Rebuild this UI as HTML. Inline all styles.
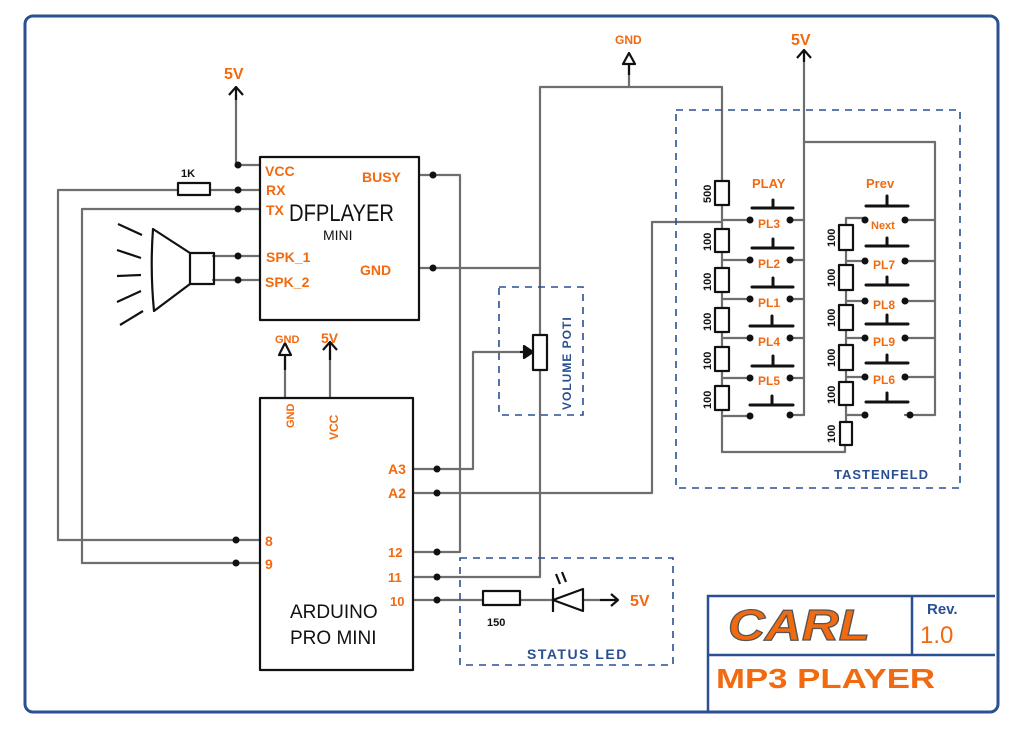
<!DOCTYPE html>
<html><head><meta charset="utf-8"><style>
html,body{margin:0;padding:0;background:#fff;}
svg{display:block;}
.w{stroke:#6e6e6e;stroke-width:2.2;fill:none;stroke-linecap:round;stroke-linejoin:round}
.b{stroke:#111;stroke-width:2.2;fill:none;stroke-linejoin:round}
.bt{stroke:#111;stroke-width:3;fill:none;stroke-linecap:round}
.d{stroke:#2a4f93;stroke-width:1.6;fill:none;stroke-dasharray:7 6}
.o{fill:#f26a10;font-family:"Liberation Sans",sans-serif;font-weight:bold}
.k{fill:#111;font-family:"Liberation Sans",sans-serif}
.bl{fill:#2a4f93;font-family:"Liberation Sans",sans-serif;font-weight:bold}
</style></head><body>
<svg width="1024" height="739" viewBox="0 0 1024 739" xmlns="http://www.w3.org/2000/svg">
<rect x="25" y="16" width="973" height="696" rx="8" fill="none" stroke="#2a4f93" stroke-width="3"/>

<g class="w">
<polyline points="236,95 236,165 260,165"/>
<polyline points="58,540 58,190 178,190"/><line x1="210" y1="190" x2="260" y2="190"/>
<polyline points="82,563 82,209 260,209"/>
<line x1="213" y1="256" x2="260" y2="256"/><line x1="213" y1="280" x2="260" y2="280"/>
<polyline points="419,175 460,175 460,552 413,552"/>
<line x1="419" y1="268" x2="540" y2="268"/>
<polyline points="540,335 540,87 722,87 722,181"/>
<line x1="629" y1="66" x2="629" y2="87"/>
<polyline points="540,370 540,577 413,577"/>
<polyline points="413,469 473,469 473,352 520,352"/>
<polyline points="413,493 652,493 652,222 722,222"/>
<line x1="58" y1="540" x2="260" y2="540"/>
<line x1="82" y1="563" x2="260" y2="563"/>
<line x1="413" y1="600" x2="483" y2="600"/><line x1="520" y1="600" x2="553" y2="600"/><line x1="583" y1="600" x2="600" y2="600"/>
<line x1="285" y1="358" x2="285" y2="398"/><line x1="330" y1="350" x2="330" y2="398"/>
<line x1="804" y1="55" x2="804" y2="415"/>
<polyline points="804,142 935,142 935,415 905,415"/>
<line x1="722" y1="205" x2="722" y2="229"/>
<polyline points="722,410 722,452 845,452 845,445"/>
<line x1="722" y1="252" x2="722" y2="268"/><line x1="722" y1="292" x2="722" y2="308"/><line x1="722" y1="332" x2="722" y2="347"/><line x1="722" y1="371" x2="722" y2="386"/>
<line x1="722" y1="220" x2="750" y2="220"/><line x1="722" y1="260" x2="750" y2="260"/><line x1="722" y1="299" x2="750" y2="299"/><line x1="722" y1="338" x2="750" y2="338"/><line x1="722" y1="378" x2="750" y2="378"/><line x1="722" y1="416" x2="750" y2="416"/>
<line x1="790" y1="220" x2="804" y2="220"/><line x1="790" y1="260" x2="804" y2="260"/><line x1="790" y1="299" x2="804" y2="299"/><line x1="790" y1="338" x2="804" y2="338"/><line x1="790" y1="378" x2="804" y2="378"/><line x1="790" y1="415" x2="804" y2="415"/>
<polyline points="846,225 846,218 865,218"/>
<line x1="846" y1="250" x2="846" y2="265"/><line x1="846" y1="290" x2="846" y2="305"/><line x1="846" y1="330" x2="846" y2="345"/><line x1="846" y1="370" x2="846" y2="382"/><line x1="846" y1="405" x2="846" y2="422"/>
<line x1="846" y1="261" x2="865" y2="261"/><line x1="846" y1="301" x2="865" y2="301"/><line x1="846" y1="338" x2="865" y2="338"/><line x1="846" y1="377" x2="865" y2="377"/><line x1="846" y1="415" x2="865" y2="415"/>
<line x1="905" y1="220" x2="935" y2="220"/><line x1="905" y1="261" x2="935" y2="261"/><line x1="905" y1="301" x2="935" y2="301"/><line x1="905" y1="338" x2="935" y2="338"/><line x1="905" y1="377" x2="935" y2="377"/>
</g>

<rect class="d" x="676" y="110" width="284" height="378"/>
<rect class="d" x="499" y="287" width="84" height="128"/>
<rect class="d" x="460" y="558" width="213" height="107"/>

<rect class="b" x="260" y="157" width="159" height="163"/>
<rect class="b" x="260" y="398" width="153" height="272"/>
<g class="b">
<rect x="178" y="183" width="32" height="12"/>
<rect x="190" y="253" width="24" height="31"/>
<path d="M190,253 L153,229 Q150,270 154,311 L190,284"/>
<line x1="118" y1="224" x2="142" y2="235"/><line x1="117" y1="250" x2="141" y2="258"/><line x1="117" y1="276" x2="141" y2="275"/><line x1="117" y1="302" x2="141" y2="291"/><line x1="120" y1="325" x2="143" y2="311"/>
<rect x="533" y="335" width="14" height="35"/>
<path d="M520,352 L532,352"/><path d="M524,346 L533,352 L524,358 Z" fill="#111"/>
<rect x="483" y="591" width="37" height="14"/>
<path d="M553,600 L583,589 L583,611 Z"/><line x1="553" y1="588" x2="553" y2="612"/>
<line x1="560" y1="584" x2="556" y2="574"/><line x1="566" y1="582" x2="562" y2="572"/>
<line x1="600" y1="600" x2="618" y2="600"/><polyline points="611,594 618,600 611,606"/>
<polyline points="229,95 236,87 243,95"/><line x1="236" y1="87" x2="236" y2="100"/>
<polyline points="323,350 330,342 337,350"/><line x1="330" y1="342" x2="330" y2="360"/>
<path d="M285,343 L279,355 L291,355 Z"/><line x1="285" y1="355" x2="285" y2="370"/>
<path d="M629,53 L623,64 L635,64 Z"/><line x1="629" y1="64" x2="629" y2="75"/>
<polyline points="797,58 804,50 811,58"/><line x1="804" y1="50" x2="804" y2="62"/>
<rect x="715" y="181" width="14" height="24"/>
<rect x="715" y="229" width="14" height="23"/><rect x="715" y="268" width="14" height="24"/><rect x="715" y="308" width="14" height="24"/><rect x="715" y="347" width="14" height="24"/><rect x="715" y="386" width="14" height="24"/>
<rect x="839" y="225" width="14" height="25"/><rect x="839" y="265" width="14" height="25"/><rect x="839" y="305" width="14" height="25"/><rect x="839" y="345" width="14" height="25"/><rect x="839" y="382" width="14" height="23"/><rect x="840" y="422" width="12" height="23"/>
</g>
<g class="bt">
<line x1="752" y1="208" x2="793" y2="208"/><line x1="773" y1="200" x2="773" y2="208"/>
<line x1="752" y1="248" x2="793" y2="248"/><line x1="773" y1="239" x2="773" y2="248"/>
<line x1="752" y1="287" x2="793" y2="287"/><line x1="773" y1="278" x2="773" y2="287"/>
<line x1="750" y1="326" x2="793" y2="326"/><line x1="772" y1="316" x2="772" y2="326"/>
<line x1="752" y1="366" x2="793" y2="366"/><line x1="773" y1="356" x2="773" y2="366"/>
<line x1="750" y1="405" x2="793" y2="405"/><line x1="772" y1="396" x2="772" y2="405"/>
<line x1="866" y1="206" x2="908" y2="206"/><line x1="887" y1="196" x2="887" y2="206"/>
<line x1="866" y1="246" x2="908" y2="246"/><line x1="887" y1="238" x2="887" y2="246"/>
<line x1="866" y1="285" x2="908" y2="285"/><line x1="887" y1="277" x2="887" y2="285"/>
<line x1="866" y1="324" x2="908" y2="324"/><line x1="887" y1="315" x2="887" y2="324"/>
<line x1="866" y1="363" x2="908" y2="363"/><line x1="887" y1="355" x2="887" y2="363"/>
<line x1="866" y1="402" x2="908" y2="402"/><line x1="887" y1="393" x2="887" y2="402"/>
</g>
<g fill="#111">
<circle cx="238" cy="165" r="3.5"/><circle cx="238" cy="190" r="3.5"/><circle cx="238" cy="209" r="3.5"/><circle cx="238" cy="256" r="3.5"/><circle cx="238" cy="280" r="3.5"/>
<circle cx="433" cy="175" r="3.5"/><circle cx="433" cy="268" r="3.5"/>
<circle cx="236" cy="540" r="3.5"/><circle cx="236" cy="563" r="3.5"/>
<circle cx="437" cy="469" r="3.5"/><circle cx="437" cy="493" r="3.5"/><circle cx="437" cy="552" r="3.5"/><circle cx="437" cy="577" r="3.5"/><circle cx="437" cy="600" r="3.5"/>
<circle cx="750" cy="220" r="3.5"/><circle cx="750" cy="260" r="3.5"/><circle cx="750" cy="299" r="3.5"/><circle cx="750" cy="338" r="3.5"/><circle cx="750" cy="378" r="3.5"/><circle cx="750" cy="416" r="3.5"/>
<circle cx="790" cy="220" r="3.5"/><circle cx="790" cy="260" r="3.5"/><circle cx="790" cy="299" r="3.5"/><circle cx="790" cy="338" r="3.5"/><circle cx="790" cy="378" r="3.5"/><circle cx="790" cy="415" r="3.5"/>
<circle cx="865" cy="220" r="3.5"/><circle cx="865" cy="261" r="3.5"/><circle cx="865" cy="301" r="3.5"/><circle cx="865" cy="338" r="3.5"/><circle cx="865" cy="377" r="3.5"/><circle cx="865" cy="415" r="3.5"/>
<circle cx="905" cy="220" r="3.5"/><circle cx="905" cy="261" r="3.5"/><circle cx="905" cy="301" r="3.5"/><circle cx="905" cy="338" r="3.5"/><circle cx="905" cy="377" r="3.5"/><circle cx="910" cy="415" r="3.5"/>
</g>

<g class="o">
<text x="224" y="79" font-size="16">5V</text>
<text x="321" y="343" font-size="14">5V</text>
<text x="275" y="343" font-size="11">GND</text>
<text x="615" y="44" font-size="12">GND</text>
<text x="791" y="45" font-size="16">5V</text>
<text x="265" y="176" font-size="14">VCC</text>
<text x="266" y="195" font-size="14">RX</text>
<text x="266" y="215" font-size="14">TX</text>
<text x="266" y="262" font-size="14">SPK_1</text>
<text x="265" y="287" font-size="14">SPK_2</text>
<text x="362" y="182" font-size="14">BUSY</text>
<text x="360" y="275" font-size="14">GND</text>
<text x="294" y="428" font-size="11" transform="rotate(-90 294 428)">GND</text>
<text x="338" y="440" font-size="12" transform="rotate(-90 338 440)">VCC</text>
<text x="388" y="474" font-size="14">A3</text>
<text x="388" y="498" font-size="14">A2</text>
<text x="388" y="557" font-size="13">12</text>
<text x="388" y="582" font-size="13">11</text>
<text x="390" y="606" font-size="13">10</text>
<text x="265" y="546" font-size="14">8</text>
<text x="265" y="569" font-size="14">9</text>
<text x="630" y="606" font-size="16">5V</text>
<text x="752" y="188" font-size="13">PLAY</text>
<text x="758" y="228" font-size="12">PL3</text>
<text x="758" y="268" font-size="12">PL2</text>
<text x="758" y="307" font-size="12">PL1</text>
<text x="758" y="346" font-size="12">PL4</text>
<text x="758" y="385" font-size="12">PL5</text>
<text x="866" y="188" font-size="13">Prev</text>
<text x="871" y="229" font-size="11">Next</text>
<text x="873" y="269" font-size="12">PL7</text>
<text x="873" y="309" font-size="12">PL8</text>
<text x="873" y="346" font-size="12">PL9</text>
<text x="873" y="384" font-size="12">PL6</text>
<text x="716" y="688" font-size="28" textLength="219" lengthAdjust="spacingAndGlyphs">MP3 PLAYER</text>
<text x="920" y="643" font-size="24" font-weight="normal">1.0</text>
<text x="728" y="640" font-size="44" font-style="italic" stroke="#555" stroke-width="1.2" textLength="142" lengthAdjust="spacingAndGlyphs">CARL</text>
</g>
<g class="k">
<text x="289" y="221" font-size="24" textLength="105" lengthAdjust="spacingAndGlyphs">DFPLAYER</text>
<text x="323" y="240" font-size="14">MINI</text>
<text x="290" y="618" font-size="19">ARDUINO</text>
<text x="290" y="644" font-size="19">PRO MINI</text>
<text x="181" y="177" font-size="11" font-weight="bold">1K</text>
<text x="487" y="626" font-size="11" font-weight="bold">150</text>
<g font-size="11" font-weight="bold">
<text x="711" y="203" transform="rotate(-90 711 203)">500</text>
<text x="711" y="251" transform="rotate(-90 711 251)">100</text>
<text x="711" y="291" transform="rotate(-90 711 291)">100</text>
<text x="711" y="331" transform="rotate(-90 711 331)">100</text>
<text x="711" y="370" transform="rotate(-90 711 370)">100</text>
<text x="711" y="409" transform="rotate(-90 711 409)">100</text>
<text x="835" y="247" transform="rotate(-90 835 247)">100</text>
<text x="835" y="287" transform="rotate(-90 835 287)">100</text>
<text x="835" y="327" transform="rotate(-90 835 327)">100</text>
<text x="835" y="367" transform="rotate(-90 835 367)">100</text>
<text x="835" y="404" transform="rotate(-90 835 404)">100</text>
<text x="835" y="443" transform="rotate(-90 835 443)">100</text>
</g>
</g>
<g class="bl">
<text x="834" y="479" font-size="13" letter-spacing="1">TASTENFELD</text>
<text x="527" y="659" font-size="14" letter-spacing="1.5">STATUS  LED</text>
<text x="571" y="410" font-size="12" letter-spacing="1" transform="rotate(-90 571 410)">VOLUME POTI</text>
<text x="927" y="614" font-size="15">Rev.</text>
</g>
<g fill="none" stroke="#2a4f93" stroke-width="2.5">
<polyline points="708,712 708,596 995,596"/>
<line x1="708" y1="655" x2="995" y2="655"/>
<line x1="912" y1="596" x2="912" y2="655"/>
</g>
</svg>
</body></html>
